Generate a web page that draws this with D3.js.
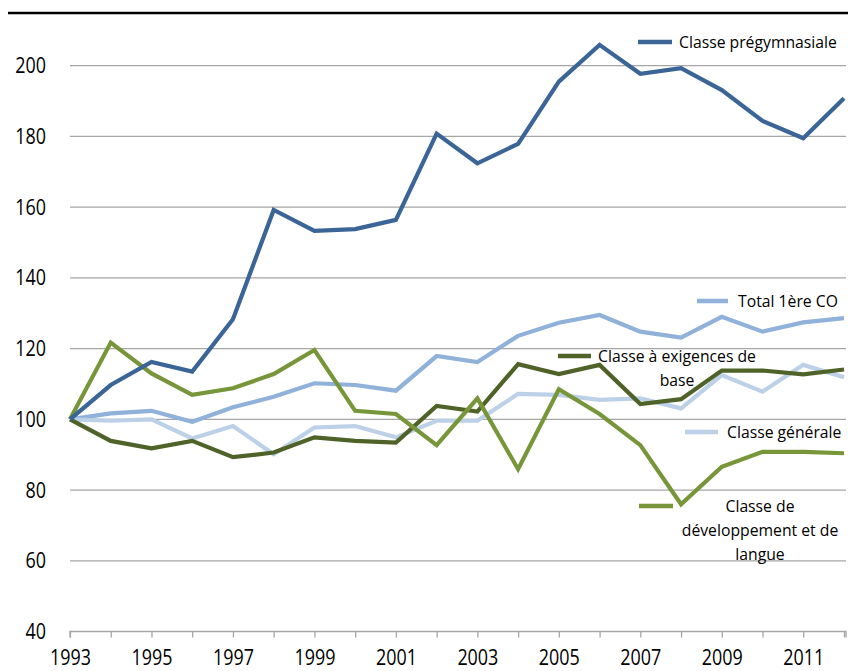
<!DOCTYPE html>
<html>
<head>
<meta charset="utf-8">
<script src="https://cdn.jsdelivr.net/npm/d3@7"></script>
<style>
  html, body { margin: 0; padding: 0; background: #ffffff; }
  svg { display: block; }
  text { font-family: "Open Sans", sans-serif; fill: #000; }
</style>
</head>
<body>
<svg id="chart" width="848" height="671"></svg>
<script>
const years = [1993,1994,1995,1996,1997,1998,1999,2000,2001,2002,2003,2004,2005,2006,2007,2008,2009,2010,2011,2012];
const yearLabels = [1993,1995,1997,1999,2001,2003,2005,2007,2009,2011];
const yTicks = [40,60,80,100,120,140,160,180,200];

const pregymnasiale = [100,109.7,116.2,113.5,128.3,159.2,153.3,153.8,156.4,180.8,172.4,177.9,195.5,205.9,197.7,199.3,193.1,184.4,179.5,190.8];
const total1ereCO   = [100,101.7,102.4,99.3,103.4,106.4,110.2,109.7,108.1,117.9,116.2,123.6,127.3,129.5,124.8,123.1,129.0,124.8,127.4,128.6];
const generale      = [100,99.6,100,94.6,98.1,90.1,97.7,98.1,94.9,99.6,99.6,107.2,106.9,105.5,105.9,103.1,112.5,107.8,115.4,111.9];
const exigencesBase = [100,93.9,91.8,93.9,89.3,90.6,94.9,93.9,93.4,103.8,102.2,115.6,112.8,115.4,104.3,105.7,113.8,113.8,112.7,114.1];
const developpement = [100,121.7,113,106.9,108.8,112.8,119.6,102.4,101.5,92.7,105.9,85.9,108.5,101.5,92.7,76.0,86.6,90.8,90.8,90.4];

const seriesNames = ["Total 1ère CO","Classe générale","Classe à exigences de base","Classe de développement et de langue","Classe prégymnasiale"];
const seriesValues = [total1ereCO, generale, exigencesBase, developpement, pregymnasiale];
const seriesColors = ["#8FB1DA","#BCD0E8","#4F6228","#77963A","#3A6596"];

const legendSpec = [
  {x1:697, x2:728, y:301, tx:738, anchor:"start", lines:["Total 1ère CO"]},
  {x1:685, x2:718, y:432, tx:727, anchor:"start", lines:["Classe générale"]},
  {x1:558, x2:591, y:356, tx:677, anchor:"middle", lines:["Classe à exigences de","base"]},
  {x1:639, x2:673, y:506, tx:760, anchor:"middle", lines:["Classe de","développement et de","langue"]},
  {x1:638, x2:672, y:42, tx:679, anchor:"start", lines:["Classe prégymnasiale"]}
];

const svg = d3.select("#chart");
const mLeft = 70, mRight = 844, mTop = 65.7, mBottom = 631.5;

const x = d3.scalePoint().domain(years).range([mLeft, mRight]);
const y = d3.scaleLinear().domain([40, 200]).range([mBottom, mTop]);

// narrow-font emulation: compress text horizontally about its anchor
function squeeze(sel, f) {
  sel.each(function() {
    const t = d3.select(this);
    const tx = +t.attr("x") || 0, ty = +t.attr("y") || 0;
    t.attr("x", 0).attr("y", 0).attr("transform", `translate(${tx},${ty}) scale(${f},1)`);
  });
}
function measure(str, size) {
  const t = svg.append("text").attr("font-size", size).text(str);
  const w = t.node().getComputedTextLength();
  t.remove();
  return w;
}
const axisSize = 21.5;
const fAxis = 41 / measure("1993", axisSize);
const legendSize = 17;
const fLegend = 158 / measure("Classe prégymnasiale", legendSize);

svg.append("line").attr("x1", 8).attr("x2", 848).attr("y1", 13).attr("y2", 13)
  .attr("stroke", "#000").attr("stroke-width", 2.5);

svg.append("g").selectAll("line").data(yTicks.filter(d => d > 40)).join("line")
  .attr("x1", mLeft).attr("x2", mRight + 2)
  .attr("y1", d => y(d)).attr("y2", d => y(d))
  .attr("stroke", "#A6A6A6").attr("stroke-width", 1.3);

const yl = svg.append("g").selectAll("text").data(yTicks).join("text")
  .attr("x", 46).attr("y", d => y(d) + 7.5)
  .attr("text-anchor", "end").attr("font-size", axisSize)
  .text(d => d);
squeeze(yl, fAxis);

const xAxis = d3.axisBottom(x).tickSize(6).tickFormat(d => yearLabels.includes(d) ? d : "");
const gx = svg.append("g").attr("transform", `translate(0,${mBottom})`).call(xAxis);
gx.select(".domain").attr("stroke", "#A6A6A6").attr("stroke-width", 1.3)
  .attr("d", `M${mLeft},6V0H${mRight + 2}V6`);
gx.selectAll(".tick line").attr("stroke", "#A6A6A6").attr("stroke-width", 1.3);
const xt = gx.selectAll(".tick text").attr("font-size", axisSize).attr("dy", null).attr("y", 33)
  .attr("font-family", "'Open Sans', sans-serif").attr("fill", "#000");
squeeze(xt, fAxis);

const line = d3.line().x((d, i) => x(years[i])).y(d => y(d));
svg.append("g").selectAll("path").data(seriesValues).join("path")
  .attr("d", d => line(d))
  .attr("fill", "none")
  .attr("stroke", (d, i) => seriesColors[i])
  .attr("stroke-width", 4.2)
  .attr("stroke-linejoin", "miter");

const lg = svg.append("g");
legendSpec.forEach((s, i) => {
  lg.append("line").attr("x1", s.x1).attr("x2", s.x2).attr("y1", s.y).attr("y2", s.y)
    .attr("stroke", seriesColors[i]).attr("stroke-width", 4.5);
  s.lines.forEach((t, j) => {
    const el = lg.append("text").attr("x", s.tx).attr("y", s.y + 6 + j * 24)
      .attr("text-anchor", s.anchor).attr("font-size", legendSize).text(t);
    squeeze(el, fLegend);
  });
});
</script>
</body>
</html>
